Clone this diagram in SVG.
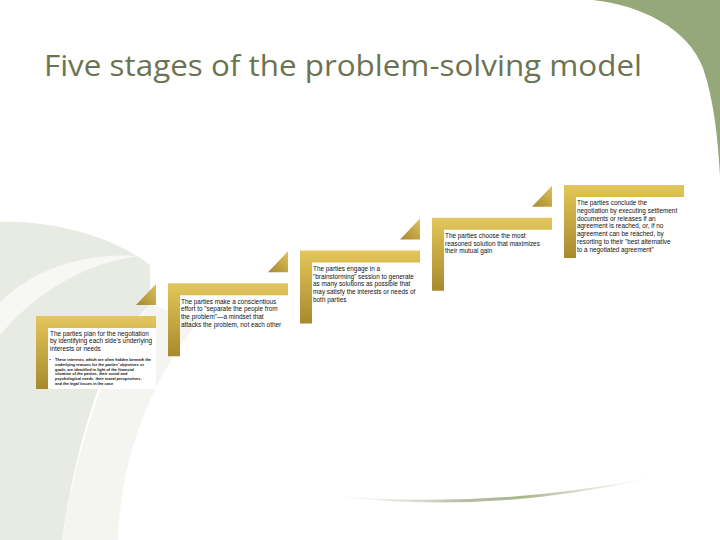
<svg xmlns="http://www.w3.org/2000/svg" width="720" height="540" viewBox="0 0 720 540">
<style>
.t{font-family:"Liberation Sans",Arial,sans-serif;font-size:6.4px;fill:#111}
.b{font-family:"Liberation Sans",Arial,sans-serif;font-size:3.9px;fill:#111;font-weight:bold}
.title{font-family:"Open Sans","Liberation Sans",sans-serif;font-size:29px;fill:#6C7353}
.box{fill:#fff}
.L{fill:url(#gold)}
.tri{fill:url(#goldT)}
</style>
<defs>
<linearGradient id="gold" x1="0" y1="0" x2="0" y2="1">
<stop offset="0" stop-color="#E4C660"/>
<stop offset="0.2" stop-color="#D8BA50"/>
<stop offset="1" stop-color="#A88A2E"/>
</linearGradient>
<linearGradient id="goldT" x1="1" y1="0" x2="0" y2="1">
<stop offset="0" stop-color="#E0C25A"/>
<stop offset="1" stop-color="#A4872E"/>
</linearGradient>
<linearGradient id="streak" x1="0" y1="0" x2="1" y2="0">
<stop offset="0" stop-color="#E8EBE4" stop-opacity="0.3"/>
<stop offset="0.4" stop-color="#B8BFAA"/>
<stop offset="0.6" stop-color="#A9B68A"/>
<stop offset="1" stop-color="#E8EBE4" stop-opacity="0.3"/>
</linearGradient>
</defs>
<rect width="720" height="540" fill="#fff"/>
<g id="background">
<path d="M593,0 C640,5 688,28 703,68 C714,100 718,140 720,176 L720,0 Z" fill="#95A879"/>
<path d="M0,222 C55,220 115,238 150,265 L150,305 C110,340 80,420 62,540 L0,540 Z" fill="#E8EBE4"/>
<path d="M0,302 C35,268 85,252 140,256 C90,262 40,288 0,335 Z" fill="#F7F8F5"/>
<path d="M62,540 C80,430 110,350 150,305 L200,320 C150,380 120,460 118,540 Z" fill="#F4F5F1"/>
<path d="M335,496 Q490,515 650,478 Q490,509 335,496 Z" fill="url(#streak)"/>
</g>
<text class="title" x="44" y="76" textLength="598" lengthAdjust="spacingAndGlyphs">Five stages of the problem-solving model</text>
<g id="connectors">
<polygon class="tri" points="136,305 156,305 156,284"/>
<polygon class="tri" points="268,272.25 288,272.25 288,251.25"/>
<polygon class="tri" points="400,239.5 420,239.5 420,218.5"/>
<polygon class="tri" points="532,206.75 552,206.75 552,185.75"/>
</g>
<g id="stage1">
<rect class="box" x="48" y="328" width="108" height="61"/>
<path class="L" d="M36,316 h120 v12 h-108 v61 h-12 Z"/>
<text class="t" x="50" y="335.5">The parties plan for the negotiation</text>
<text class="t" x="50" y="343.3">by identifying each side's underlying</text>
<text class="t" x="50" y="351">interests or needs</text>
<text class="b" x="49.5" y="361">•</text>
<text class="b" x="55" y="361">These interests, which are often hidden beneath the</text>
<text class="b" x="55" y="365.8">underlying reasons for the parties' objectives or</text>
<text class="b" x="55" y="370.6">goals, are identified in light of the financial</text>
<text class="b" x="55" y="375.4">situation of the parties, their social and</text>
<text class="b" x="55" y="380.2">psychological needs, their moral perspectives,</text>
<text class="b" x="55" y="385">and the legal issues in the case</text>
</g>
<g id="stage2">
<path class="L" d="M168,283.25 h120 v12 h-108 v61 h-12 Z"/>
<text class="t" x="181" y="303.5">The parties make a conscientious</text>
<text class="t" x="181" y="311.2">effort to "separate the people from</text>
<text class="t" x="181" y="318.9">the problem"—a mindset that</text>
<text class="t" x="181" y="326.6">attacks the problem, not each other</text>
</g>
<g id="stage3">
<path class="L" d="M300,250.5 h120 v12 h-108 v61 h-12 Z"/>
<text class="t" x="313" y="270.8">The parties engage in a</text>
<text class="t" x="313" y="278.5">"brainstorming" session to generate</text>
<text class="t" x="313" y="286.2">as many solutions as possible that</text>
<text class="t" x="313" y="293.9">may satisfy the interests or needs of</text>
<text class="t" x="313" y="301.6">both parties</text>
</g>
<g id="stage4">
<path class="L" d="M432,217.75 h120 v12 h-108 v61 h-12 Z"/>
<text class="t" x="445" y="238">The parties choose the most</text>
<text class="t" x="445" y="245.7">reasoned solution that maximizes</text>
<text class="t" x="445" y="253.4">their mutual gain</text>
</g>
<g id="stage5">
<path class="L" d="M564,185 h120 v12 h-108 v61 h-12 Z"/>
<text class="t" x="577" y="205.3">The parties conclude the</text>
<text class="t" x="577" y="213">negotiation by executing settlement</text>
<text class="t" x="577" y="220.7">documents or releases if an</text>
<text class="t" x="577" y="228.4">agreement is reached, or, if no</text>
<text class="t" x="577" y="236.1">agreement can be reached, by</text>
<text class="t" x="577" y="243.8">resorting to their "best alternative</text>
<text class="t" x="577" y="251.5">to a negotiated agreement"</text>
</g>
</svg>
